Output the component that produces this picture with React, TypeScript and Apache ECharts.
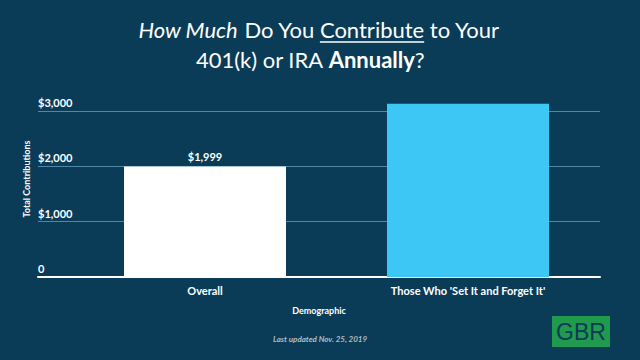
import React, { useEffect, useRef } from "react";
import * as echarts from "echarts";

const categories = ["Overall", "Those Who 'Set It and Forget It'"];
const contributions = [1999, 3130];
const barColors = ["#ffffff", "#3dc7f4"];
const yTicks = [0, 1000, 2000, 3000];

const BG = "#0a3c57";
const FONT = "Lato";
const TITLE_SIZE = 22;

function fmt(v: number) {
  return v === 0 ? "0" : "$" + v.toLocaleString("en-US");
}

function measure(text: string, font: string) {
  const c = document.createElement("canvas").getContext("2d");
  if (!c) return text.length * 10;
  c.font = font;
  return c.measureText(text).width;
}

export default function App() {
  const ref = useRef<HTMLDivElement>(null);
  useEffect(() => {
    if (!ref.current) return;
    const chart = echarts.init(ref.current, undefined, { renderer: "svg" });
    const yMax = yTicks[yTicks.length - 1];

    const fN = `${TITLE_SIZE}px ${FONT}`;
    const fI = `italic ${TITLE_SIZE}px ${FONT}`;
    const w1 = measure("How Much", fI);
    const w2 = measure(" Do You ", fN);
    const w3 = measure("Contribute", fN);
    const w4 = measure(" to Your", fN);
    const line1Center = 319;
    const line1Start = line1Center - (w1 + w2 + w3 + w4) / 2;
    const ulStart = line1Start + w1 + w2;
    const ulEnd = ulStart + w3;

    chart.setOption({
      animation: false,
      backgroundColor: BG,
      textStyle: { fontFamily: FONT },
      grid: [
        { left: 73.5, right: 40.5, top: 111, bottom: 83 },
        { left: 38, right: 40, top: 111, bottom: 83 },
      ],
      xAxis: [
        {
          type: "category",
          gridIndex: 0,
          data: categories,
          axisLine: { show: false },
          axisTick: { show: false },
          axisLabel: {
            color: "#ffffff",
            fontWeight: "bold",
            fontSize: 11,
            margin: 8,
            fontFamily: FONT,
          },
        },
        {
          type: "value",
          gridIndex: 1,
          min: 0,
          max: 1,
          axisLine: { show: true, lineStyle: { color: "#ffffff", width: 2 } },
          axisTick: { show: false },
          axisLabel: { show: false },
          splitLine: { show: false },
        },
      ],
      yAxis: [
        {
          type: "value",
          gridIndex: 0,
          min: 0,
          max: yMax,
          interval: 1000,
          show: false,
          splitLine: { show: false },
        },
        {
          type: "value",
          gridIndex: 1,
          min: 0,
          max: yMax,
          interval: 1000,
          axisLine: { show: false },
          axisTick: { show: false },
          splitLine: { show: true, lineStyle: { color: "#4f89a5", width: 1 } },
          axisLabel: {
            inside: true,
            margin: 0,
            color: "#ffffff",
            fontWeight: "bold",
            fontSize: 11,
            fontFamily: FONT,
            verticalAlign: "bottom",
            padding: [0, 0, 3, 0],
            formatter: (v: number) => fmt(v),
          },
        },
      ],
      series: [
        {
          type: "bar",
          xAxisIndex: 0,
          yAxisIndex: 0,
          barWidth: 162,
          clip: false,
          data: contributions.map((v, i) => ({
            value: v,
            itemStyle: { color: barColors[i] },
            label: {
              show: i === 0,
              position: "top",
              distance: 4,
              color: "#ffffff",
              fontWeight: "bold",
              fontSize: 11,
              fontFamily: FONT,
              formatter: (p: any) => fmt(p.value),
            },
          })),
        },
      ],
      graphic: [
        {
          type: "text",
          x: line1Center,
          y: 29,
          style: {
            text: "{i|How Much}{n| Do You Contribute to Your}",
            align: "center",
            verticalAlign: "middle",
            fill: "#ffffff",
            fontSize: TITLE_SIZE,
            fontFamily: FONT,
            rich: {
              i: { fontStyle: "italic", fontSize: TITLE_SIZE, fill: "#ffffff", fontFamily: FONT },
              n: { fontSize: TITLE_SIZE, fill: "#ffffff", fontFamily: FONT },
            },
          },
        },
        {
          type: "text",
          x: 310,
          y: 59,
          style: {
            text: "{n|401(k) or IRA }{b|Annually}{n|?}",
            align: "center",
            verticalAlign: "middle",
            fill: "#ffffff",
            fontSize: TITLE_SIZE,
            fontFamily: FONT,
            rich: {
              b: { fontWeight: "bold", fontSize: TITLE_SIZE, fill: "#ffffff", fontFamily: FONT },
              n: { fontSize: TITLE_SIZE, fill: "#ffffff", fontFamily: FONT },
            },
          },
        },
        {
          type: "line",
          shape: { x1: ulStart, y1: 42, x2: ulEnd, y2: 42 },
          style: { stroke: "#ffffff", lineWidth: 1.5 },
        },
        {
          type: "text",
          x: 26,
          y: 179,
          rotation: Math.PI / 2,
          style: {
            text: "Total Contributions",
            fill: "#ffffff",
            fontSize: 9,
            fontWeight: "bold",
            fontFamily: FONT,
            align: "center",
            verticalAlign: "middle",
          },
        },
        {
          type: "text",
          x: 319,
          y: 310,
          style: {
            text: "Demographic",
            fill: "#ffffff",
            fontSize: 9,
            fontWeight: "bold",
            fontFamily: FONT,
            align: "center",
            verticalAlign: "middle",
          },
        },
        {
          type: "text",
          x: 320,
          y: 339,
          style: {
            text: "Last updated Nov. 25, 2019",
            fill: "#aebdc7",
            fontSize: 8,
            fontStyle: "italic",
            fontWeight: "bold",
            fontFamily: FONT,
            align: "center",
            verticalAlign: "middle",
          },
        },
        {
          type: "rect",
          shape: { x: 552, y: 316, width: 58, height: 31 },
          style: { fill: "#1f9a4e" },
        },
        {
          type: "text",
          x: 581,
          y: 332,
          style: {
            text: "GBR",
            fill: "#0c3a55",
            fontSize: 23,
            fontFamily: "Liberation Sans",
            align: "center",
            verticalAlign: "middle",
          },
        },
      ],
    });
    return () => chart.dispose();
  }, []);
  return (
    <div
      ref={ref}
      style={{ position: "fixed", left: 0, top: 0, width: 640, height: 360 }}
    />
  );
}
